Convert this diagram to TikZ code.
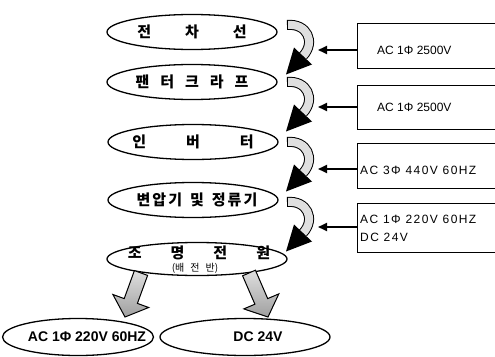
\documentclass[tikz,border=0pt]{standalone}
\usepackage{fontspec}
\setmainfont{Liberation Sans}
\newfontfamily\kr{Noto Sans CJK KR}
\newfontfamily\widefont{Liberation Sans}[LetterSpace=12]
\usetikzlibrary{arrows.meta,calc,shapes.geometric}
\begin{document}
\begin{tikzpicture}[x=1pt,y=-1pt,
  stage/.style={ellipse, draw, line width=1.3pt, minimum width=170pt, minimum height=35pt, inner sep=0pt},
  stagetext/.style={inner sep=0pt, font=\kr\bfseries\fontsize{15}{15}\selectfont},
  subtext/.style={inner sep=0pt, font=\kr\fontsize{10}{10}\selectfont},
  endtext/.style={inner sep=0pt, font=\bfseries\fontsize{14}{14}\selectfont},
  vbox/.style={draw, line width=0.9pt, anchor=north west, minimum width=170pt, inner sep=0pt},
  vtext/.style={inner sep=0pt, anchor=west, font=\fontsize{12}{18}\selectfont, align=left},
  feed/.style={-{Triangle[length=9pt,width=8pt]}, line width=2pt},
  band/.style={line width=1pt, double=gray!25, double distance=8pt},
  head/.style={fill=black},
  bigarrow/.style={draw=black, line width=1pt, top color=gray!25, bottom color=gray!75}
]
\useasboundingbox (0,0) rectangle (495,356);
\clip (0,0) rectangle (495,356);

% stages
\node[stage] (e1) at (192,32) {};
\node[stagetext] (t1) at (e1) {전\hspace{34pt}차\hspace{34pt}선};
\node[stage] (e2) at (192,82) {};
\node[stagetext] (t2) at (e2) {팬\hspace{11pt}터\hspace{11pt}크\hspace{11pt}라\hspace{11pt}프};
\node[stage] (e3) at (193,142) {};
\node[stagetext] (t3) at (e3) {인\hspace{40pt}버\hspace{40pt}터};
\node[stage] (e4) at (193,200) {};
\node[stagetext] (t4) at (197,200) {변\hspace{2pt}압\hspace{2pt}기\hspace{8pt}및\hspace{8pt}정\hspace{2pt}류\hspace{2pt}기};
\node[stage, minimum width=180pt, minimum height=33pt] (e5) at (197,259) {};
\node[stagetext] (t5) at (199,253) {조\hspace{29pt}명\hspace{29pt}전\hspace{29pt}원};
\node[subtext] (s5) at (195,268) {(배\hspace{6pt}전\hspace{6pt}반)};

% outputs
\node[stage, minimum width=151pt, minimum height=37pt] (o1) at (78,337) {};
\node[endtext] at (87,337) {AC 1Φ 220V 60HZ};
\node[stage, minimum width=170pt, minimum height=37pt] (o2) at (245,337) {};
\node[endtext] at (258,337) {DC 24V};

% big arrows
\filldraw[bigarrow] (134.4,270.6) -- (147.6,275.4) -- (137.4,303.4) -- (148.7,307.5) -- (125,317) -- (112.9,294.5) -- (124.2,298.6) -- cycle;
\filldraw[bigarrow] (242.6,275.8) -- (255.4,270.2) -- (267.7,298.6) -- (278.8,293.9) -- (268,317) -- (243.8,308.9) -- (254.9,304.2) -- cycle;

% curved arrows
\foreach \ty in {23,80,140,200}{
  \begin{scope}[shift={(285,\ty)}]
    \draw[band] (2,2) .. controls (22,0) and (31,19) .. (18,33);
    \draw[line width=1pt] (2,-3) -- (2,7);
    \fill[head] (27,41.5) -- (1,51.5) -- (9,24.5) -- cycle;
  \end{scope}
}

% voltage boxes
\node[vbox, minimum height=45pt] (b1) at (357,23) {};
\node[vtext] (v1) at (377,50) {AC 1Φ 2500V};
\node[vbox, minimum height=44pt] (b2) at (357,85) {};
\node[vtext] (v2) at (377,107) {AC 1Φ 2500V};
\node[vbox, minimum height=45pt] (b3) at (357,143) {};
\node[vtext, font=\widefont\fontsize{12}{18}\selectfont] (v3) at (360,170) {AC 3Φ 440V 60HZ};
\node[vbox, minimum height=49pt] (b4) at (357,203) {};
\node[vtext, font=\widefont\fontsize{12}{18}\selectfont] (v4) at (360,228) {AC 1Φ 220V 60HZ\\DC 24V};

\coordinate (c1) at (318,50);
\coordinate (c2) at (318,107);
\coordinate (c3) at (318,169);
\coordinate (c4) at (318,227);
\draw[feed] (b1.west |- c1) -- (c1);
\draw[feed] (b2.west |- c2) -- (c2);
\draw[feed] (b3.west |- c3) -- (c3);
\draw[feed] (b4.west |- c4) -- (c4);
\end{tikzpicture}
\end{document}
